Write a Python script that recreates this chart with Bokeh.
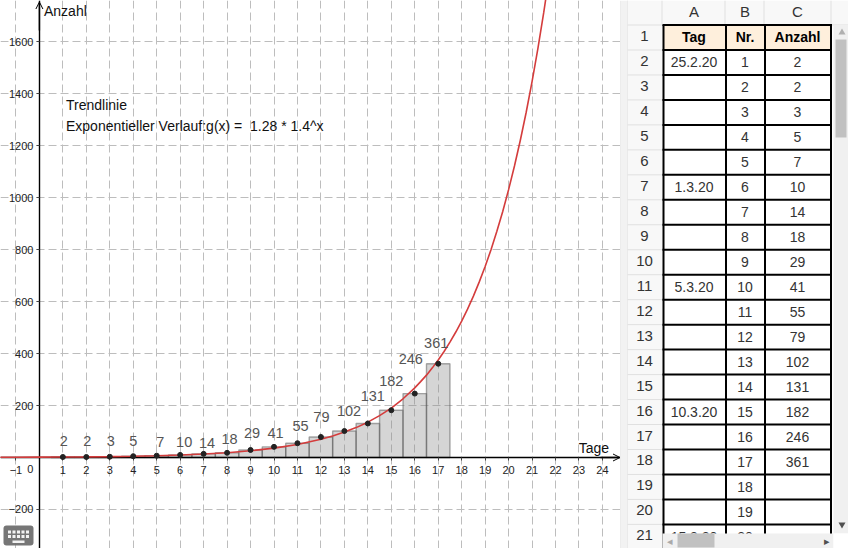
from bokeh.plotting import figure
from bokeh.layouts import row
from bokeh.models import (Range1d, FixedTicker, ColumnDataSource, Arrow, OpenHead, BoxAnnotation, Label)
from bokeh.core.properties import value
from bokeh.embed import file_html
from bokeh.resources import INLINE

# ---------- data ----------
nr = list(range(1, 18))
anzahl = [2, 2, 3, 5, 7, 10, 14, 18, 29, 41, 55, 79, 102, 131, 182, 246, 361]
# red trend curve
curve_x = [-1.66, -1, 0, 1, 2, 3, 4, 5, 6, 7, 8, 9, 10, 11, 12, 12.5, 13, 13.5, 14, 14.5, 15, 15.5,
           16, 16.25, 16.5, 16.75, 17, 17.25, 17.5, 17.75, 18, 18.25, 18.5, 18.75, 19, 19.25, 19.5,
           19.75, 20, 20.25, 20.5, 20.75, 21, 21.25, 21.5, 21.75]
curve_y = [0.74, 0.92, 1.3, 1.8, 2.5, 3.5, 4.9, 6.8, 9.5, 13.2, 18.5, 25.8, 36, 50, 70, 83, 98, 115, 136, 161, 190, 226,
           268, 292, 317, 345, 375, 408, 444, 483, 525, 571, 621, 676, 735, 800, 871,
           947, 1031, 1122, 1221, 1329, 1447, 1575, 1714, 1866]
x_ticks = [-1, 0] + list(range(1, 25))
y_ticks = list(range(-200, 1601, 200))
trend_title = "Trendlinie"
trend_text = "Exponentieller Verlauf:g(x) =  1.28 * 1.4^x"
sheet_cols = ["A", "B", "C"]
sheet_heads = ["Tag", "Nr.", "Anzahl"]
sheet_tag = ["25.2.20", "", "", "", "", "1.3.20", "", "", "", "5.3.20", "", "", "", "", "10.3.20", "", "", "", "", "15.3.20"]
sheet_nr = list(range(1, 21))
sheet_anz = anzahl + ["", "", ""]

# ---------- layout constants ----------
FONT = "Liberation Sans"
W1, H = 620, 548
PX_X, X0 = 23.46, 38.9
PX_Y, Y0 = 0.2598, 457.0
xd = lambda px: (px - X0) / PX_X
yd = lambda py: (Y0 - py) / PX_Y
label_dx = [1, 1, 1, 0, 3.5, 4, 3.5, 2.5, 1.5, 1.5, 3, 0.5, 4.7, 5, 0, -4, -2]
label_dy = [16, 16, 16, 15.5, 14, 13, 11, 13.6, 17, 13.6, 17.7, 19.5, 20.5, 27, 29.7, 34.8, 21]

# ---------- graph ----------
p = figure(width=W1, height=H, output_backend="svg", toolbar_location=None,
           x_range=Range1d(xd(0), xd(W1)), y_range=Range1d(yd(H), yd(0)),
           min_border=0, min_border_left=0, min_border_right=0, min_border_top=0, min_border_bottom=0,
           outline_line_color=None, background_fill_color="white", border_fill_color="white")

for ax, ticks in ((p.xaxis[0], x_ticks), (p.yaxis[0], y_ticks)):
    ax.ticker = FixedTicker(ticks=ticks)
    ax.fixed_location = 0
    ax.axis_line_color = "black"
    ax.axis_line_width = 1.4
    ax.major_tick_in = 0
    ax.major_tick_out = 3
    ax.major_tick_line_color = "#444444"
    ax.minor_tick_line_color = None
    ax.major_label_text_font = FONT
    ax.major_label_text_font_size = "11px"
    ax.major_label_text_color = "#222222"
p.xaxis[0].major_label_overrides = {-1: "\u22121", 0: ""}
p.yaxis[0].major_label_overrides = {0: "", -200: "\u2212200"}
p.xaxis[0].major_label_standoff = 5
p.yaxis[0].major_label_standoff = 3

for g in (p.xgrid[0], p.ygrid[0]):
    g.grid_line_color = "#bdbdbd"
    g.grid_line_dash = "8 4"
    g.grid_line_width = 1

p.vbar(x=nr, top=anzahl, width=1, fill_color="#8a8a8a", fill_alpha=0.36,
       line_color="#555555", line_alpha=0.5, line_width=1.4)

p.line(curve_x, curve_y, line_color="#d43c3c", line_width=1.6, level="annotation")
p.scatter(nr, anzahl, size=5, marker="circle", fill_color="#222222", line_color="#222222", level="annotation")

src = ColumnDataSource(dict(x=nr, y=anzahl, t=[str(v) for v in anzahl], dx=label_dx,
                            dy=[-d for d in label_dy]))
p.text("x", "y", text="t", source=src, x_offset="dx", y_offset="dy", text_align="center",
       text_baseline="middle", text_font=value(FONT), text_font_size="14.5px", text_color="#555555",
       level="annotation")

p.text([0], [0], text=["0"], x_offset=[-9], y_offset=[11], text_align="center", text_baseline="middle",
       text_font=value(FONT), text_font_size="11px", text_color="#222222")

p.add_layout(Arrow(end=OpenHead(size=7, line_width=1, line_color="black"), x_start=xd(600), y_start=0,
                   x_end=xd(619.5), y_end=0, line_color="black", line_width=1.4))
p.add_layout(Arrow(end=OpenHead(size=7, line_width=1, line_color="black"), x_start=0, y_start=yd(30),
                   x_end=0, y_end=yd(1.5), line_color="black", line_width=1.4))

def lab(px, py, txt, align="left", size="14px", color="#111111"):
    p.add_layout(Label(x=xd(px), y=yd(py), text=txt, text_align=align, text_baseline="middle",
                       text_font=FONT, text_font_size=size, text_color=color))

lab(43.5, 10.5, "Anzahl")
lab(608.5, 447, "Tage", align="right")
lab(65.5, 104.3, trend_title)
lab(65.5, 125.3, trend_text.replace("=  ", "=\u00a0 "))

def box(l, r, t, b, color, alpha=1.0, radius=0):
    p.add_layout(BoxAnnotation(left=xd(l), right=xd(r), top=yd(t), bottom=yd(b), fill_color=color,
                               fill_alpha=alpha, line_color=None, border_radius=radius, level="overlay"))

box(3, 33, 525, 545, "#6f6f6f", 0.95, 3)
for ky in (530, 534.5):
    for kx in (7.5, 12, 16.5, 21, 25.5):
        box(kx, kx + 3, ky, ky + 3, "#f2f2f2")
box(12, 24, 540, 542.5, "#f2f2f2")

# ---------- spreadsheet ----------
STEP, TOP = 24.97, 24.5
rr = lambda py: (py - TOP) / STEP + 0.5
W2 = 228
s = figure(width=W2, height=H, output_backend="svg", toolbar_location=None,
           x_range=Range1d(620, 620 + W2), y_range=Range1d(rr(H), rr(0)),
           min_border=0, min_border_left=0, min_border_right=0, min_border_top=0, min_border_bottom=0,
           outline_line_color=None, background_fill_color="white", border_fill_color="white")
s.axis.visible = False
s.grid.visible = False

EDGES = [663, 725.5, 764.5, 830.5]
CENTERS = [693.5, 744.5, 797]
n_rows = 21

s.quad(left=[620], right=[627], top=[rr(0)], bottom=[rr(H)], fill_color="#f2f2f2", line_color=None)
s.segment([620, 627], [rr(0)] * 2, [620, 627], [rr(H)] * 2, line_color="#dcdcdc", line_width=1)
s.quad(left=[627], right=[848], top=[rr(0)], bottom=[0.5], fill_color="#f8f8f8", line_color=None)
s.quad(left=[627], right=[662], top=[0.5], bottom=[rr(H)], fill_color="#f8f8f8", line_color=None)
s.segment([627], [0.5], [848], [0.5], line_color="#e0e0e0")
rows = list(range(1, n_rows + 1))
s.segment([627] * n_rows, [r + 0.5 for r in rows], [662] * n_rows, [r + 0.5 for r in rows], line_color="#e0e0e0")
s.segment([661.5, 724.5, 763.5, 830.5], [rr(0)] * 4, [661.5, 724.5, 763.5, 830.5], [0.5] * 4, line_color="#e0e0e0")

s.quad(left=[EDGES[0]], right=[EDGES[-1]], top=[0.5], bottom=[1.5], fill_color="#feefdc", line_color=None)

txt = dict(text_align="center", text_baseline="middle", text_font=value(FONT))
s.text(CENTERS, [0.0] * 3, text=sheet_cols, y_offset=[-1] * 3, text_font_size="15px", text_color="#333333", **txt)
s.text([644] * n_rows, rows, text=[str(r) for r in rows], y_offset=[-1.5] * n_rows, text_font_size="15px", text_color="#333333", **txt)
s.text(CENTERS, [1] * 3, text=sheet_heads, text_font_size="14px", text_font_style="bold", text_color="#000000", **txt)
for cx, col in zip(CENTERS, (sheet_tag, sheet_nr, sheet_anz)):
    s.text([cx] * len(col), [r + 2 for r in range(len(col))], text=[str(v) for v in col],
           text_font_size="14px", text_color="#333333", **txt)

# black table lines
s.segment(EDGES, [0.5] * 4, EDGES, [21.5] * 4, line_color="black", line_width=2)
hl = [r + 0.5 for r in range(0, 21)]
s.segment([EDGES[0] - 1] * len(hl), hl, [EDGES[-1] + 1] * len(hl), hl, line_color="black", line_width=2)

# scrollbars
s.quad(left=[833], right=[848], top=[0.5], bottom=[rr(533)], fill_color="#f0f0f0", line_color=None)
s.quad(left=[835], right=[846], top=[rr(39)], bottom=[rr(137)], fill_color="#c1c1c1", line_color=None)
s.quad(left=[662], right=[833], top=[rr(533)], bottom=[rr(547.5)], fill_color="#f0f0f0", line_color=None)
s.quad(left=[677], right=[714], top=[rr(533)], bottom=[rr(547)], fill_color="#c1c1c1", line_color=None)
s.quad(left=[833], right=[848], top=[rr(533)], bottom=[rr(H)], fill_color="white", line_color=None)
s.scatter([841.5], [rr(32)], marker="triangle", size=7, fill_color="#b0b0b0", line_color=None)
s.scatter([841.5], [rr(524)], marker="inverted_triangle", size=7, fill_color="#505050", line_color=None)
s.text([669], [rr(540)], text=["\u25c2"], text_font_size="11px", text_color="#aaaaaa", **txt)
s.text([826], [rr(540)], text=["\u25b8"], text_font_size="11px", text_color="#505050", **txt)

layout = row(p, s, spacing=0)
open("out.html", "w").write(file_html(layout, INLINE))
